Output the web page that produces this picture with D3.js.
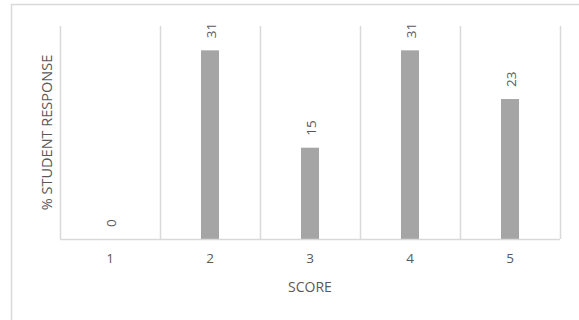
<!DOCTYPE html>
<html>
<head>
<meta charset="utf-8">
<script src="https://cdn.jsdelivr.net/npm/d3@7"></script>
<style>
  html, body { margin: 0; padding: 0; background: #fff; }
  svg { display: block; }
  text { font-family: "Open Sans", "Noto Sans", sans-serif; fill: #595959; }
</style>
</head>
<body>
<svg id="chart" width="579" height="320"></svg>
<script>
// Score categories and share of student responses (%)
const scores = ["1", "2", "3", "4", "5"];
const responses = [0, 31, 15, 31, 23];
const yTicks = [0, 35];

const svg = d3.select("#chart");
const W = 579, H = 320;
const margin = { top: 26, right: 19, bottom: 81, left: 60 };
const innerW = W - margin.left - margin.right;
const innerH = H - margin.top - margin.bottom;

// Chart frame (extends past the right and bottom edges)
svg.append("rect")
  .attr("x", 11.5).attr("y", 4.5)
  .attr("width", W + 20).attr("height", H + 20)
  .attr("fill", "none")
  .attr("stroke", "#d9d9d9")
  .attr("stroke-width", 1.5);

const g = svg.append("g").attr("transform", `translate(${margin.left},${margin.top})`);

const x = d3.scaleBand().domain(scores).range([0, innerW]).paddingInner(0).paddingOuter(0);
const y = d3.scaleLinear().domain([yTicks[0], yTicks[1]]).range([innerH, 0]);

// Vertical category separators
const edges = scores.map(s => x(s)).concat([innerW]);
g.selectAll("line.sep").data(edges).join("line")
  .attr("class", "sep")
  .attr("x1", d => Math.round(d) + 0.5).attr("x2", d => Math.round(d) + 0.5)
  .attr("y1", 0).attr("y2", innerH)
  .attr("stroke", "#d9d9d9").attr("stroke-width", 1.5);

// Bars
const barW = 18;
g.selectAll("rect.bar").data(responses).join("rect")
  .attr("class", "bar")
  .attr("x", (d, i) => x(scores[i]) + x.bandwidth() / 2 - barW / 2)
  .attr("width", barW)
  .attr("y", d => y(d))
  .attr("height", d => innerH - y(d))
  .attr("fill", "#a5a5a5");

// Baseline
g.append("line")
  .attr("x1", 0).attr("x2", innerW)
  .attr("y1", innerH + 0.5).attr("y2", innerH + 0.5)
  .attr("stroke", "#d9d9d9").attr("stroke-width", 1.5);

// Value labels, rotated above each bar
g.selectAll("text.val").data(responses).join("text")
  .attr("class", "val")
  .attr("transform", (d, i) => `translate(${x(scores[i]) + x.bandwidth() / 2 + 6},${y(d) - 12}) rotate(-90)`)
  .attr("text-anchor", "start")
  .attr("font-size", "13.5px")
  .text(d => d);

// Category axis labels
const xAxis = d3.axisBottom(x).tickSize(0).tickPadding(14);
const ax = g.append("g").attr("transform", `translate(0,${innerH})`).call(xAxis);
ax.select(".domain").remove();
ax.selectAll("text").attr("font-size", "13.5px").attr("font-family", null).attr("fill", "#595959");

// Axis titles
svg.append("text")
  .attr("x", margin.left + innerW / 2).attr("y", 292)
  .attr("text-anchor", "middle")
  .attr("font-size", "14px")
  .text("SCORE");

svg.append("text")
  .attr("transform", `translate(52,${margin.top + innerH / 2}) rotate(-90)`)
  .attr("text-anchor", "middle")
  .attr("font-size", "14.5px")
  .text("% STUDENT RESPONSE");
</script>
</body>
</html>
